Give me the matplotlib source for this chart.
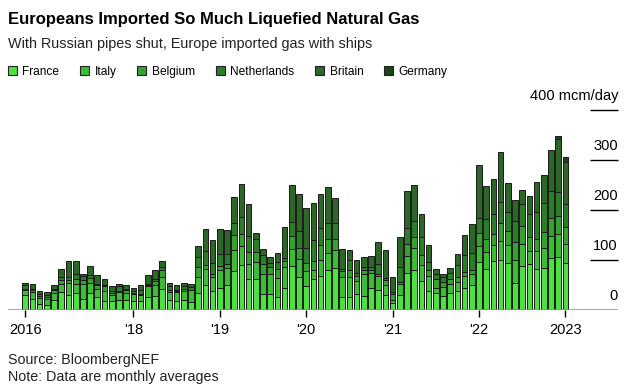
import numpy as np
import pandas as pd
import matplotlib
matplotlib.use("Agg")
import matplotlib.pyplot as plt
from matplotlib.patches import Patch
import matplotlib.transforms as mtransforms

plt.rcParams['font.family'] = ['Liberation Sans', 'DejaVu Sans']

# monthly LNG imports, mcm/day, Oct 2016 .. Jan 2023
months = pd.period_range("2016-10", "2023-01", freq="M")

france = [30, 23, 13, 10, 20, 37, 30, 35, 23, 35, 27, 18, 18, 21, 20, 18, 19, 27, 28, 43,
          20, 19, 20, 17, 35, 50, 39, 45, 51, 78, 90, 62, 63, 33, 33, 27, 45, 88, 67, 48,
          63, 69, 80, 85, 27, 27, 32, 28, 45, 41, 30, 15, 31, 75, 81, 59, 38, 35, 29, 35,
          38, 45, 51, 97, 83, 98, 100, 95, 55, 88, 93, 82, 85, 105, 107, 95]
italy = [10, 14, 12, 12, 15, 15, 25, 18, 30, 20, 15, 21, 12, 16, 15, 15, 12, 22, 22, 24,
         17, 18, 19, 23, 32, 33, 28, 35, 34, 42, 38, 31, 34, 39, 39, 38, 42, 34, 36, 31,
         17, 32, 35, 36, 40, 40, 26, 45, 30, 28, 20, 5, 22, 33, 44, 31, 31, 10, 18, 18,
         19, 24, 22, 31, 34, 32, 39, 36, 45, 44, 25, 36, 40, 43, 46, 37]
belgium = [3, 3, 3, 5, 5, 8, 6, 10, 8, 10, 8, 10, 5, 2, 5, 2, 2, 1, 8, 13,
           3, 1, 3, 1, 20, 7, 6, 9, 8, 30, 24, 24, 20, 21, 15, 18, 11, 26, 22, 16,
           18, 30, 27, 22, 11, 14, 10, 7, 5, 4, 10, 13, 4, 24, 22, 21, 11, 17, 10, 9,
           10, 8, 7, 27, 25, 23, 36, 27, 37, 37, 29, 25, 32, 37, 36, 35]
netherlands = [8, 3, 5, 3, 3, 6, 6, 10, 7, 5, 3, 2, 3, 9, 3, 4, 7, 3, 5, 7,
               8, 3, 6, 6, 20, 28, 22, 24, 19, 25, 35, 31, 26, 17, 8, 14, 7, 29, 34, 30,
               42, 34, 33, 32, 5, 19, 7, 7, 7, 19, 5, 4, 30, 33, 32, 36, 17, 10, 9, 13,
               23, 34, 35, 30, 41, 39, 42, 39, 41, 44, 46, 54, 58, 54, 48, 45]
britain = [4, 10, 6, 7, 7, 17, 32, 26, 5, 18, 18, 12, 11, 5, 8, 6, 11, 17, 18, 11,
           7, 10, 7, 6, 22, 44, 45, 49, 48, 52, 66, 65, 12, 12, 12, 18, 62, 74, 73, 80,
           75, 68, 72, 50, 40, 20, 25, 20, 21, 45, 55, 30, 60, 73, 72, 45, 33, 11, 6, 10,
           22, 40, 58, 106, 65, 71, 100, 58, 43, 28, 35, 60, 56, 82, 105, 85]
germany = [0] * 74 + [7, 10]

countries = ["France", "Italy", "Belgium", "Netherlands", "Britain", "Germany"]
colors = ["#4de041", "#3cbd35", "#37a130", "#2b7d27", "#2c6728", "#1d471a"]
series = [france, italy, belgium, netherlands, britain, germany]

tick_years = [2016, 2018, 2019, 2020, 2021, 2022, 2023]
tick_labels = ["2016", "'18", "'19", "'20", "'21", "'22", "2023"]
y_ticks = [0, 100, 200, 300, 400]
y_labels = ["0", "100", "200", "300", "400 mcm/day"]

x = np.arange(len(months))
tick_pos = [int(np.argmax(months.year == y)) for y in tick_years]

fig = plt.figure(figsize=(6.31, 3.9), dpi=100)
ax = fig.add_axes([8 / 631, 80 / 390, 610 / 631, 200 / 390])

bottom = np.zeros(len(x))
for name, vals, col in zip(countries, series, colors):
    vals = np.array(vals, dtype=float)
    m = vals > 0
    ax.bar(x[m], vals[m], 0.78, bottom=bottom[m], color=col,
           edgecolor="#1a1a1a", linewidth=0.7, zorder=2)
    bottom += vals

ax.set_xlim(-2.4, 82.3)
ax.set_ylim(0, 400)
for s in ax.spines.values():
    s.set_visible(False)
ax.axhline(0, color="#8c8c8c", lw=1.8, zorder=3)

ax.set_xticks(tick_pos, tick_labels)
ax.tick_params(axis="x", length=5, width=1, color="black", pad=4.5, labelsize=10.5)
ax.set_yticks([])

# short right-hand gridlines with labels above them
trans = ax.get_yaxis_transform()
ax.hlines(y_ticks[1:], 0.954, 1.0, transform=trans, color="black", lw=1, clip_on=False)
for v, lab in zip(y_ticks, y_labels):
    ax.annotate(lab, xy=(1.0, v), xycoords=trans, xytext=(0, 10), textcoords="offset points",
                ha="right", va="center", fontsize=10.5, color="black")

fig.text(8 / 631, 1 - 19.5 / 390, "Europeans Imported So Much Liquefied Natural Gas",
         fontsize=12, weight="bold", va="center", ha="left")
fig.text(8 / 631, 1 - 44 / 390, "With Russian pipes shut, Europe imported gas with ships",
         fontsize=10.4, va="center", ha="left", color="#222222")

handles = [Patch(facecolor=c, edgecolor="#222222", linewidth=0.8, label=n)
           for n, c in zip(countries, colors)]
fig.legend(handles=handles, loc="center left", bbox_to_anchor=(8 / 631, 1 - 72 / 390),
           ncol=6, frameon=False, fontsize=8.6, handlelength=0.75, handleheight=0.75,
           handletextpad=0.45, columnspacing=1.75, borderpad=0, borderaxespad=0)

fig.text(8 / 631, 1 - 360 / 390, "Source: BloombergNEF", fontsize=10.3, va="center",
         color="#222222")
fig.text(8 / 631, 1 - 377 / 390, "Note: Data are monthly averages", fontsize=10.3,
         va="center", color="#222222")

fig.savefig("out.png", dpi=100)
